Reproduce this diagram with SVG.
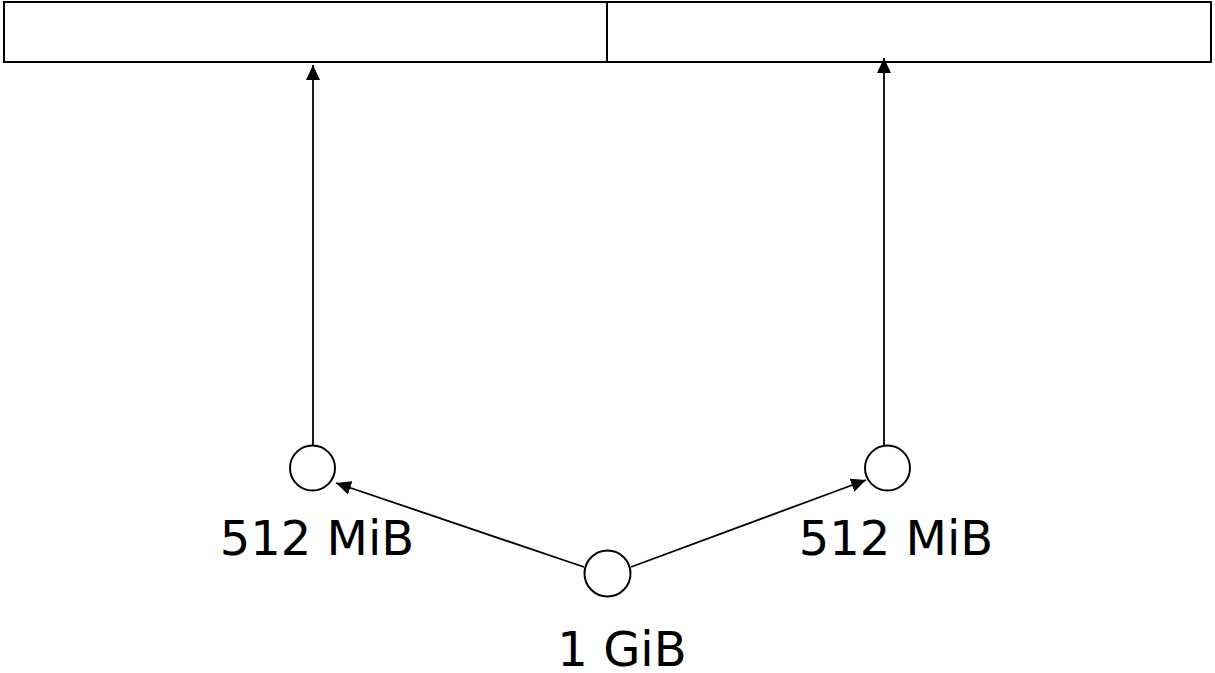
<svg xmlns="http://www.w3.org/2000/svg" width="1215" height="673" viewBox="0 0 1215 673">
<defs>
<marker id="ah" viewBox="0 0 15 14" refX="15" refY="7" markerWidth="15" markerHeight="14" markerUnits="userSpaceOnUse" orient="auto"><path d="M0,0 L15,7 L0,14 z" fill="#000"/></marker>
<style>
.box{fill:#fff;stroke:#000;stroke-width:2}
.node{fill:#fff;stroke:#000;stroke-width:2}
.edge{fill:none;stroke:#000;stroke-width:1.8;marker-end:url(#ah)}
.lbl{font-family:"DejaVu Sans",Verdana,sans-serif;font-size:48px;fill:#000;text-anchor:middle}
</style>
</defs>
<rect width="1215" height="673" fill="#fff"/>
<g id="block-left"><rect class="box" x="4" y="2" width="603" height="60"/></g>
<g id="block-right"><rect class="box" x="607" y="2" width="604" height="60"/></g>
<g id="connectors">
<line class="edge" x1="313" y1="445" x2="313" y2="65"/>
<line class="edge" x1="884" y1="445" x2="884" y2="58"/>
<line class="edge" x1="584" y1="567" x2="336" y2="483"/>
<line class="edge" x1="631" y1="567" x2="866" y2="480"/>
</g>
<g id="node-left"><circle class="node" cx="312.5" cy="468" r="22.5"/><text class="lbl" x="317" y="555">512 MiB</text></g>
<g id="node-right"><circle class="node" cx="887.5" cy="468" r="22.5"/><text class="lbl" x="896" y="555">512 MiB</text></g>
<g id="node-root"><circle class="node" cx="607.5" cy="573.5" r="23"/><text class="lbl" x="622" y="666">1 GiB</text></g>
</svg>
